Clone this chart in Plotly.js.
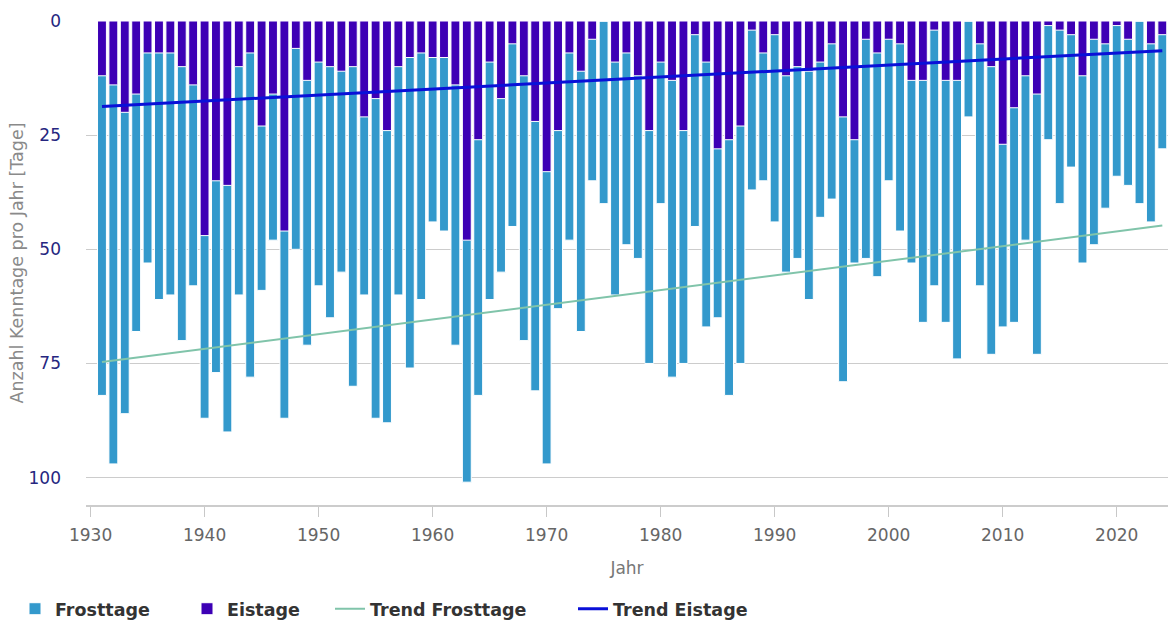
<!DOCTYPE html>
<html>
<head>
<meta charset="utf-8">
<script src="https://cdn.plot.ly/plotly-3.0.1.min.js"></script>
<style>html,body{margin:0;padding:0;background:#fff;}#chart{width:1168px;height:620px;}</style>
</head>
<body>
<div id="chart"></div>
<script>
const years = [1931,1932,1933,1934,1935,1936,1937,1938,1939,1940,
1941,1942,1943,1944,1945,1946,1947,1948,1949,1950,
1951,1952,1953,1954,1955,1956,1957,1958,1959,1960,
1961,1962,1963,1964,1965,1966,1967,1968,1969,1970,
1971,1972,1973,1974,1975,1976,1977,1978,1979,1980,
1981,1982,1983,1984,1985,1986,1987,1988,1989,1990,
1991,1992,1993,1994,1995,1996,1997,1998,1999,2000,
2001,2002,2003,2004,2005,2006,2007,2008,2009,2010,
2011,2012,2013,2014,2015,2016,2017,2018,2019,2020,
2021,2022,2023,2024];

const frosttage = [82,97,86,68,53,61,60,70,58,87,
77,90,60,78,59,48,87,50,71,58,
65,55,80,60,87,88,60,76,61,44,
46,71,101,82,61,55,45,70,81,97,
63,48,68,35,40,60,49,52,75,40,
78,75,45,67,65,82,75,37,35,44,
55,52,61,43,39,79,53,52,56,35,
46,53,66,58,66,74,21,58,73,67,
66,48,73,26,40,32,53,49,41,34,
36,40,44,28];

const eistage = [12,14,20,16,7,7,7,10,14,47,
35,36,10,7,23,16,46,6,13,9,
10,11,10,21,17,24,10,8,7,8,
8,14,48,26,9,17,5,12,22,33,
24,7,11,4,0,9,7,12,24,9,
13,24,3,9,28,26,23,2,7,3,
12,10,11,9,5,21,26,4,7,4,
5,13,13,2,13,13,0,5,10,27,
19,12,16,1,2,3,12,4,5,1,
4,0,5,3];

const trendYears = [1931, 2024];
const trendFrosttage = [74.7, 44.8];
const trendEistage = [18.7, 6.5];

const yTicks = [0, 25, 50, 75, 100];

const FONT = 'DejaVu Sans, Verdana, sans-serif';

const traces = [
  {
    type: 'bar', name: 'Frosttage', x: years, y: frosttage,
    width: 0.78, legend: 'legend',
    marker: {color: '#3399cc', line: {color: '#ffffff', width: 1}},
    hoverinfo: 'x+y'
  },
  {
    type: 'bar', name: 'Eistage', x: years, y: eistage,
    width: 0.78, legend: 'legend2',
    marker: {color: '#3d00b5', line: {color: '#ffffff', width: 1}},
    hoverinfo: 'x+y'
  },
  {
    type: 'scatter', mode: 'lines', name: 'Trend Frosttage',
    x: trendYears, y: trendFrosttage, legend: 'legend3',
    line: {color: '#80c4aa', width: 2}
  },
  {
    type: 'scatter', mode: 'lines', name: 'Trend Eistage',
    x: trendYears, y: trendEistage, legend: 'legend4',
    line: {color: '#0a10d8', width: 3}
  }
];

function legendAt(px) {
  return {
    orientation: 'h',
    xref: 'container', yref: 'container',
    x: px / 1168, xanchor: 'left',
    y: 0.018, yanchor: 'middle',
    font: {family: FONT, size: 17.5, color: '#333333', weight: 'bold'},
    itemwidth: 30,
    bgcolor: 'rgba(0,0,0,0)'
  };
}

const layout = {
  width: 1168, height: 620,
  margin: {l: 86, r: 0, t: 21, b: 115, pad: 0},
  paper_bgcolor: '#ffffff', plot_bgcolor: '#ffffff',
  font: {family: FONT, size: 17, color: '#666666'},
  barmode: 'overlay',
  showlegend: true,
  xaxis: {
    range: [1929.6, 2024.5],
    tick0: 1930, dtick: 10,
    ticks: 'outside', ticklen: 10, tickwidth: 1, tickcolor: '#c8c8c8',
    showline: true, linecolor: '#cccccc', linewidth: 2,
    showgrid: false, zeroline: false,
    tickfont: {family: FONT, size: 17, color: '#666666'},
    ticklabelstandoff: 4,
    title: {text: 'Jahr', font: {family: FONT, size: 17, color: '#777777'}, standoff: 18}
  },
  yaxis: {
    range: [106, 0],
    tickvals: yTicks,
    ticktext: yTicks.map(String),
    showgrid: true, gridcolor: '#cccccc', gridwidth: 1,
    zeroline: false, showline: false, ticks: '',
    tickfont: {family: FONT, size: 17, color: '#262680'},
    ticklabelstandoff: 24,
    title: {text: 'Anzahl Kenntage pro Jahr [Tage]', font: {family: FONT, size: 17.5, color: '#8a8a8a'}, standoff: 0}
  },
  legend: legendAt(15),
  legend2: legendAt(187),
  legend3: legendAt(330),
  legend4: legendAt(573)
};

Plotly.newPlot('chart', traces, layout, {displayModeBar: false, responsive: false});
</script>
</body>
</html>
